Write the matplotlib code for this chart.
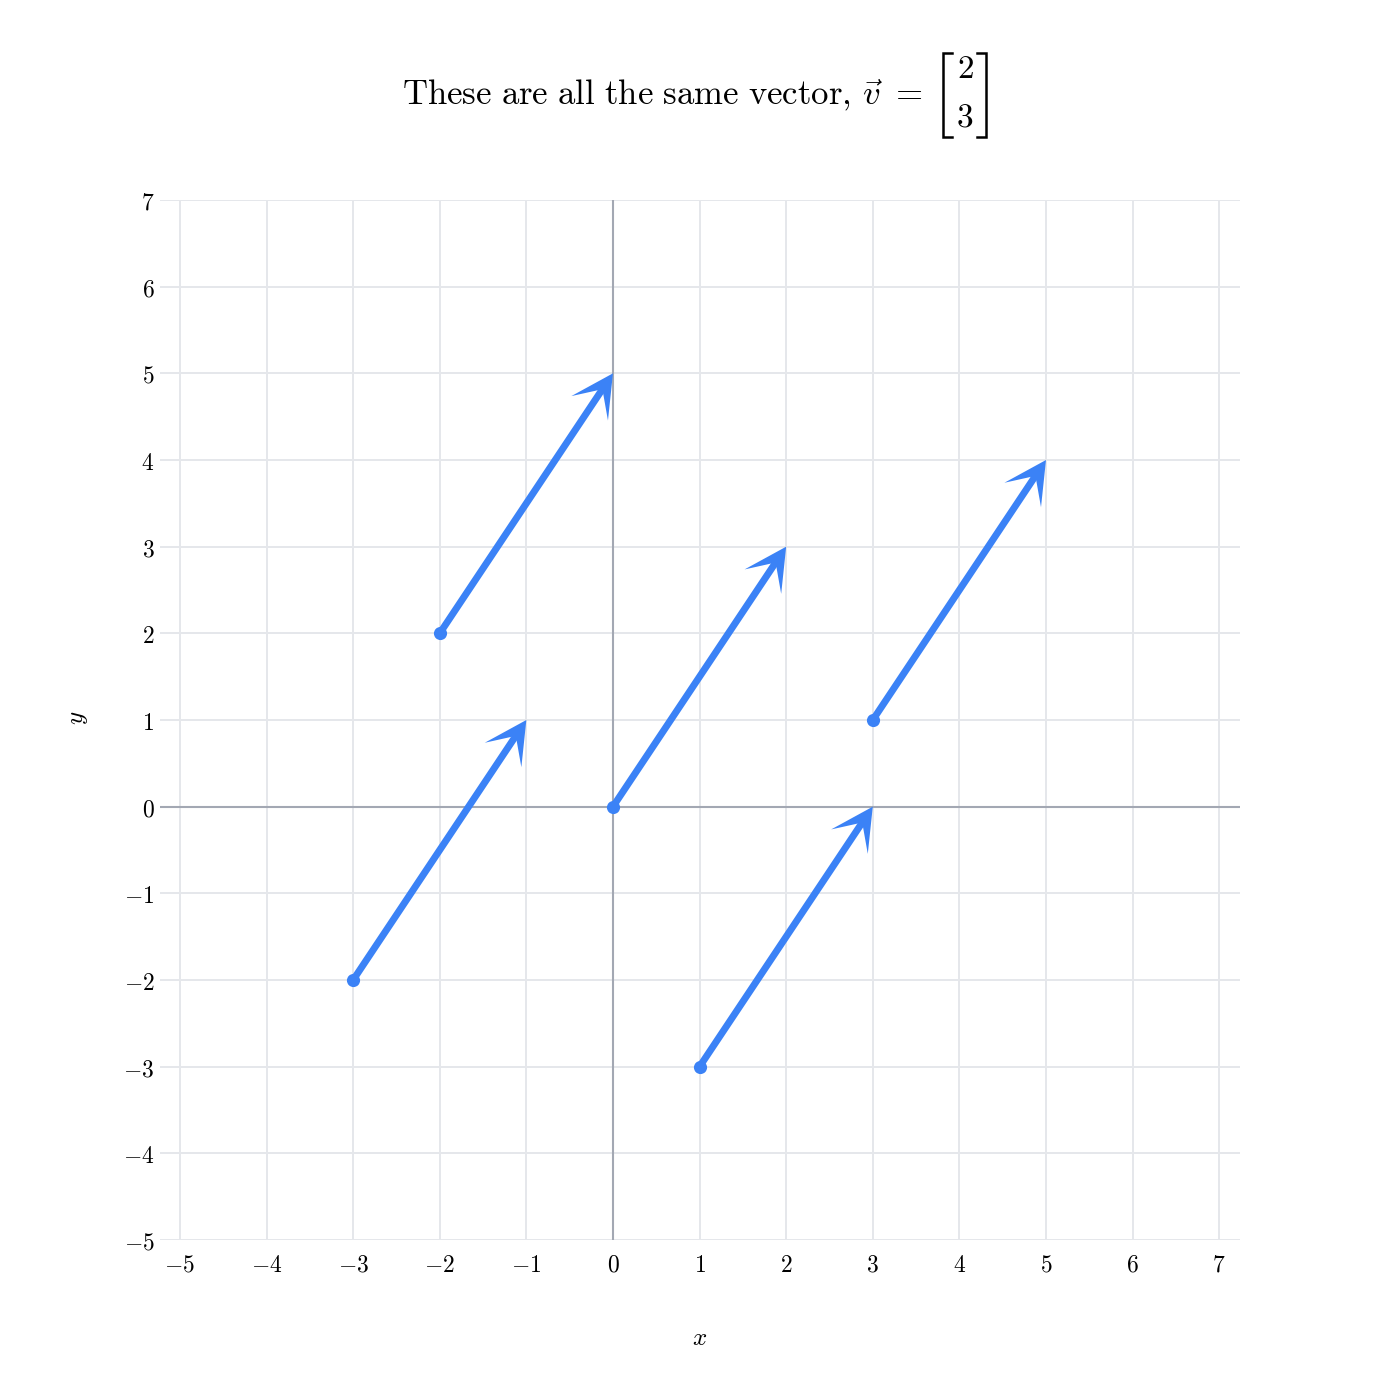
import numpy as np
import matplotlib
matplotlib.use("Agg")
from matplotlib import pyplot as plt
from matplotlib.patches import Polygon
from matplotlib.lines import Line2D
from matplotlib.ticker import FuncFormatter

plt.rcParams["mathtext.fontset"] = "cm"

# the vector and where each copy starts
vec = np.array([2, 3])
start_x = [-2, 0, 3, -3, 1]
start_y = [2, 0, 1, -2, -3]

x_ticks = list(range(-5, 8))
y_ticks = list(range(-5, 8))

blue = "#3b82f6"
grid_col = "#e5e7eb"
zero_col = "#a3a8b3"

W = 1400
fig = plt.figure(figsize=(14, 14), dpi=100)
ax = fig.add_axes([160 / W, 1 - 1240 / W, 1080 / W, 1040 / W])

ax.set_xlim(-5.23, 7.24)
ax.set_ylim(-5, 7)
ax.set_xticks(x_ticks)
ax.set_yticks(y_ticks)
ax.grid(True, color=grid_col, linewidth=1.4)
ax.axhline(0, color=zero_col, linewidth=1.5, zorder=2)
ax.axvline(0, color=zero_col, linewidth=1.5, zorder=2)
for s in ax.spines.values():
    s.set_visible(False)

fmt = FuncFormatter(lambda v, pos: f"${v:g}$")
ax.xaxis.set_major_formatter(fmt)
ax.yaxis.set_major_formatter(fmt)
ax.tick_params(axis="both", length=0, labelsize=17)
ax.tick_params(axis="x", pad=9)
ax.tick_params(axis="y", pad=4)

# arrows
d = vec / np.linalg.norm(vec)
p = np.array([d[1], -d[0]])
head_len, head_w, notch = 0.485, 0.254, 0.22
for sx, sy in zip(start_x, start_y):
    tail = np.array([sx, sy], dtype=float)
    tip = tail + vec
    ax.plot([tail[0], tip[0] - 0.1 * d[0]], [tail[1], tip[1] - 0.1 * d[1]],
            color=blue, linewidth=5, solid_capstyle="butt", zorder=3)
    head = [tip,
            tip - head_len * d + head_w * p,
            tip - notch * d,
            tip - head_len * d - head_w * p]
    ax.add_patch(Polygon(head, closed=True, color=blue, linewidth=0, zorder=4))
    ax.scatter([sx], [sy], s=90, color=blue, zorder=5, linewidths=0)

# title: text plus a hand-drawn column matrix
fig.text(923 / W, 1 - 95 / W,
         r"$\mathrm{These\ are\ all\ the\ same\ vector,}\,\vec{v}\ =$",
         ha="right", va="center", fontsize=25)
fig.text(965 / W, 1 - 68 / W, r"$2$", ha="center", va="center", fontsize=24)
fig.text(965 / W, 1 - 117 / W, r"$3$", ha="center", va="center", fontsize=24)
top, bot = 1 - 53 / W, 1 - 137 / W
for xv, xs in [(943, 952), (986, 977)]:
    fig.add_artist(Line2D([xs / W, xv / W, xv / W, xs / W], [top, top, bot, bot],
                          color="black", linewidth=1.8, solid_joinstyle="miter"))

fig.text(0.5, 1 - 1338 / W, r"$x$", ha="center", va="center", fontsize=18)
fig.text(78 / W, 1 - 718 / W, r"$y$", ha="center", va="center",
         fontsize=18, rotation=90)

fig.savefig("out.png", dpi=100)
